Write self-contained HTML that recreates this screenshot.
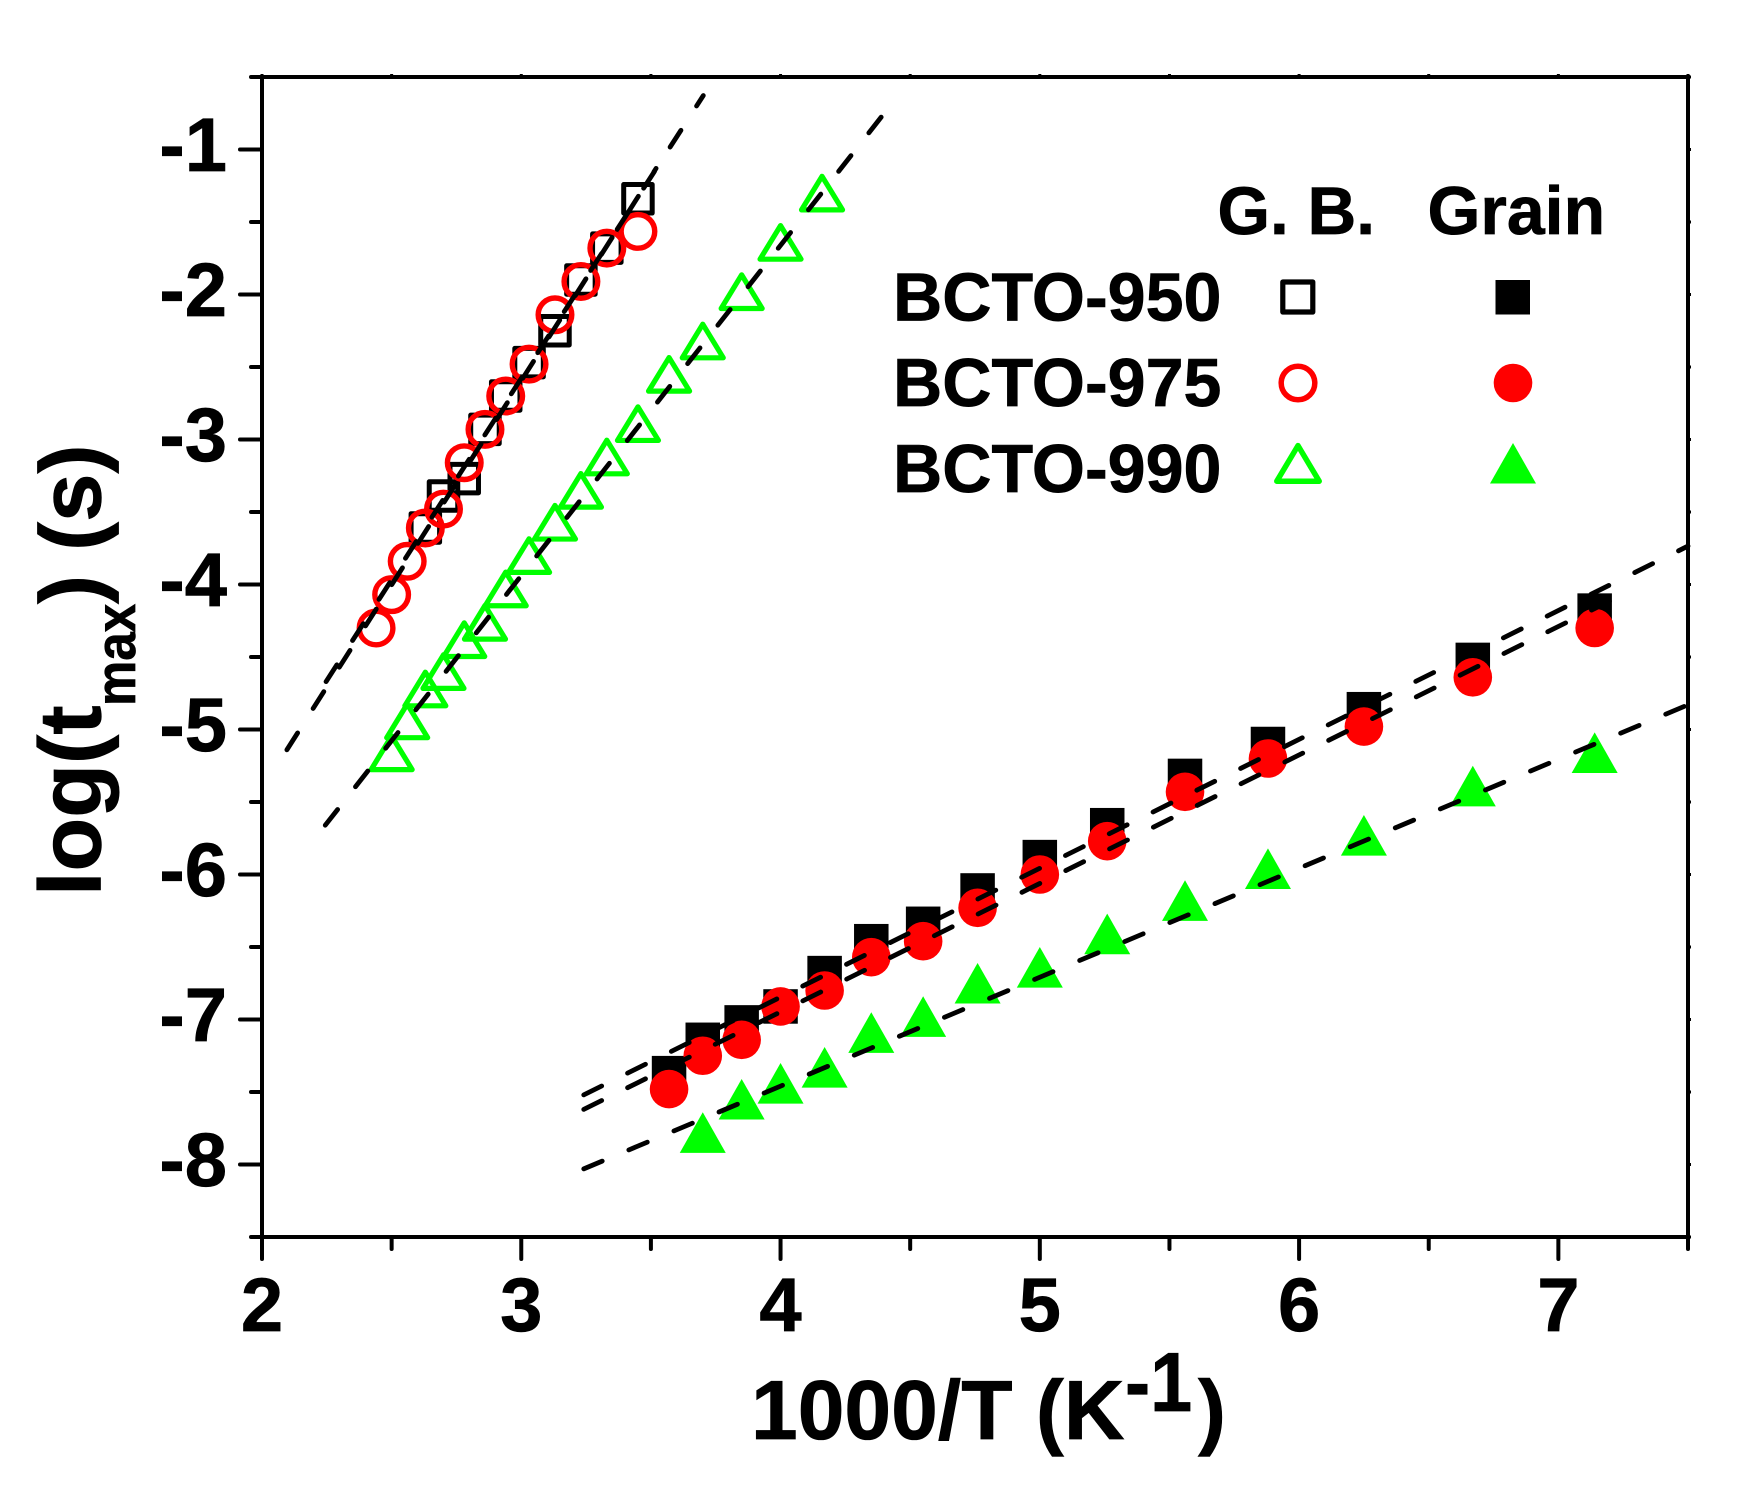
<!DOCTYPE html>
<html lang="en">
<head>
<meta charset="utf-8">
<title>log(tmax) versus 1000/T</title>
<style>
html,body{margin:0;padding:0;background:#fff;width:1744px;height:1488px;overflow:hidden}
svg{display:block}
text{font-family:"Liberation Sans",Arial,sans-serif;font-weight:bold;fill:#000;stroke:#000;stroke-width:.7px;text-rendering:geometricPrecision}
</style>
</head>
<body>
<svg id="chart" xmlns="http://www.w3.org/2000/svg" width="1744" height="1488" viewBox="0 0 1744 1488">
  <rect width="1744" height="1488" fill="#fff"/>
  <g id="marks"></g>
  <g id="axes"></g>
  <g id="fits"></g>
  <text x="751" y="1439" font-size="84">1000/T (K</text>
  <text transform="translate(1125,1411) scale(.9,1)" font-size="84">-1</text>
  <text x="1198" y="1439" font-size="84">)</text>
  <text transform="translate(100.5,896) rotate(-90)" font-size="88">log(t</text>
  <text transform="translate(135,706) rotate(-90) scale(1,1.1)" font-size="51">max</text>
  <text transform="translate(100.5,604) rotate(-90)" font-size="87">) (s)</text>
  <g id="legend">
    <text x="1217.5" y="234" font-size="67.5">G. B.</text>
    <text x="1427.5" y="234" font-size="68">Grain</text>
    <text x="893" y="320.5" font-size="68.2">BCTO-950</text>
    <text x="893" y="406" font-size="68.2">BCTO-975</text>
    <text x="893" y="492" font-size="68.2">BCTO-990</text>
    <rect x="1282.8" y="282" width="30" height="30" fill="none" stroke="#000" stroke-width="5.2" stroke-linejoin="round"/>
    <rect x="1495.5" y="280" width="34.5" height="34.5" fill="#000"/>
    <circle cx="1298" cy="383" r="16.8" fill="none" stroke="#f00" stroke-width="5.5"/>
    <circle cx="1513" cy="383" r="19.3" fill="#f00"/>
    <polygon points="1298,445.6 1319.2,481.2 1276.8,481.2" fill="none" stroke="#0f0" stroke-width="5.5" stroke-linejoin="round"/>
    <polygon points="1513,443 1536,483.5 1490,483.5" fill="#0f0"/>
  </g>
</svg>
<script>
// Categories: 1000/T values
const xGbSquare = [3.45,3.33,3.23,3.13,3.03,2.94,2.86,2.78,2.70,2.63];
const xGbCircle = [3.45,3.33,3.23,3.13,3.03,2.94,2.86,2.78,2.70,2.63,2.56,2.50,2.44];
const xGbTriangle = [4.16,4.00,3.85,3.70,3.57,3.45,3.33,3.23,3.13,3.03,2.94,2.86,2.78,2.70,2.63,2.56,2.50];
const xGrainSquare = [3.57,3.70,3.85,4.00,4.17,4.35,4.55,4.76,5.00,5.26,5.56,5.88,6.25,6.67,7.14];
const xGrainCircle = [3.57,3.70,3.85,4.00,4.17,4.35,4.55,4.76,5.00,5.26,5.56,5.88,6.25,6.67,7.14];
const xGrainTriangle = [3.70,3.85,4.00,4.17,4.35,4.55,4.76,5.00,5.26,5.56,5.88,6.25,6.67,7.14];
// Series values: log(tmax)
const yGb950 = [-1.34,-1.68,-1.90,-2.25,-2.47,-2.70,-2.93,-3.27,-3.39,-3.61];
const yGb975 = [-1.565,-1.68,-1.91,-2.14,-2.48,-2.70,-2.93,-3.16,-3.48,-3.61,-3.84,-4.07,-4.30];
const yGb990 = [-1.30,-1.64,-1.98,-2.32,-2.55,-2.89,-3.12,-3.35,-3.57,-3.80,-4.03,-4.26,-4.38,-4.60,-4.72,-4.94,-5.16];
const yGrain950 = [-7.37,-7.14,-7.02,-6.91,-6.68,-6.46,-6.34,-6.11,-5.88,-5.66,-5.32,-5.10,-4.86,-4.52,-4.18];
const yGrain975 = [-7.48,-7.25,-7.14,-6.91,-6.80,-6.57,-6.46,-6.23,-6.00,-5.77,-5.43,-5.20,-4.98,-4.64,-4.30];
const yGrain990 = [-7.78,-7.55,-7.44,-7.33,-7.09,-6.98,-6.75,-6.64,-6.41,-6.18,-5.96,-5.73,-5.39,-5.16];
// Fit line end points
const fitGb950X = [2.096,3.52];
const fitGb950Y = [-5.14,-1.13];
const fitGb975X = [2.247,3.702];
const fitGb975Y = [-4.67,-0.628];
const fitGb990X = [2.244,4.40];
const fitGb990Y = [-5.66,-0.75];
const fitGrain950X = [3.241,7.50];
const fitGrain950Y = [-7.52,-3.735];
const fitGrain975X = [3.241,7.214];
const fitGrain975Y = [-7.62,-4.10];
const fitGrain990X = [3.241,7.50];
const fitGrain990Y = [-8.03,-4.83];
// Tick labels
const xTickLabels = ['2','3','4','5','6','7'];
const yTickLabels = ['-1','-2','-3','-4','-5','-6','-7','-8'];
const xDomain = [2,7.5];
const yDomain = [-8.5,-0.5];

const NS = 'http://www.w3.org/2000/svg';
const PLOT = {left:262, right:1688, top:77, bottom:1237};
function sx(v){return PLOT.left+(v-xDomain[0])/(xDomain[1]-xDomain[0])*(PLOT.right-PLOT.left);}
function sy(v){return PLOT.bottom-(v-yDomain[0])/(yDomain[1]-yDomain[0])*(PLOT.bottom-PLOT.top);}
function svgEl(tag,attrs,parent){
  const el=document.createElementNS(NS,tag);
  for(const k in attrs){el.setAttribute(k,attrs[k]);}
  parent.appendChild(el);
  return el;
}
const marks=document.getElementById('marks');
const axes=document.getElementById('axes');
const fits=document.getElementById('fits');

function drawSquares(xs,ys,name,open){
  xs.forEach(function(x,i){
    const s=open?28.5:34.5;
    const el=svgEl('rect',{x:sx(x)-s/2,y:sy(ys[i])-s/2,width:s,height:s,fill:open?'none':'#000',stroke:open?'#000':'none','stroke-width':open?5:0,'stroke-linejoin':'round'},marks);
    
    
  });
}
function drawCircles(xs,ys,name,open){
  xs.forEach(function(x,i){
    const el=svgEl('circle',{cx:sx(x),cy:sy(ys[i]),r:open?16.8:19.3,fill:open?'none':'#f00',stroke:open?'#f00':'none','stroke-width':open?5.4:0},marks);
    
    
  });
}
function drawTriangles(xs,ys,name,open){
  xs.forEach(function(x,i){
    const px=sx(x),py=sy(ys[i]);
    const hw=open?20.5:23,up=open?16.7:20.3,dn=open?16.9:20.3;
    const el=svgEl('polygon',{points:px+','+(py-up)+' '+(px+hw)+','+(py+dn)+' '+(px-hw)+','+(py+dn),fill:open?'none':'#0f0',stroke:open?'#0f0':'none','stroke-width':open?5.2:0,'stroke-linejoin':'round'},marks);
    
    
  });
}
drawSquares(xGrainSquare,yGrain950,'grain-950-point',false);
drawCircles(xGrainCircle,yGrain975,'grain-975-point',false);
drawTriangles(xGrainTriangle,yGrain990,'grain-990-point',false);
drawSquares(xGbSquare,yGb950,'gb-950-point',true);
drawCircles(xGbCircle,yGb975,'gb-975-point',true);
drawTriangles(xGbTriangle,yGb990,'gb-990-point',true);

function drawFit(xs,ys,name){
  const el=svgEl('line',{x1:sx(xs[0]),y1:sy(ys[0]),x2:sx(xs[1]),y2:sy(ys[1]),stroke:'#000','stroke-width':4.8,'stroke-linecap':'round','stroke-dasharray':'20 28.9'},fits);
  
  
}
drawFit(fitGb950X,fitGb950Y,'fit-line-gb-950');
drawFit(fitGb975X,fitGb975Y,'fit-line-gb-975');
drawFit(fitGb990X,fitGb990Y,'fit-line-gb-990');
drawFit(fitGrain950X,fitGrain950Y,'fit-line-grain-950');
drawFit(fitGrain975X,fitGrain975Y,'fit-line-grain-975');
drawFit(fitGrain990X,fitGrain990Y,'fit-line-grain-990');

// Axis frame
const frame=svgEl('rect',{x:PLOT.left,y:PLOT.top,width:PLOT.right-PLOT.left,height:PLOT.bottom-PLOT.top,fill:'none',stroke:'#000','stroke-width':4},axes);



function tick(x1,y1,x2,y2,name,cap){
  const el=svgEl('line',{x1:x1,y1:y1,x2:x2,y2:y2,stroke:'#000','stroke-width':cap==='butt'?3:4,'stroke-linecap':cap},axes);
  
  
}
for(let k=0;k<=Math.round((xDomain[1]-xDomain[0])*2);k++){
  const v=xDomain[0]+k/2, major=k%2===0, px=sx(v);
  tick(px,PLOT.bottom,px,PLOT.bottom+(major?22:12),major?'x-major-tick':'x-minor-tick','round');
  tick(px,PLOT.top,px,PLOT.top-3,'top-tick','butt');
}
for(let k=0;k<=Math.round((yDomain[1]-yDomain[0])*2);k++){
  const v=yDomain[0]+k/2, major=k%2===1, py=sy(v);
  tick(PLOT.left,py,PLOT.left-(major?22:11),py,major?'y-major-tick':'y-minor-tick','round');
  tick(PLOT.right,py,PLOT.right+3,py,'right-tick','butt');
}
xTickLabels.forEach(function(t){
  const el=svgEl('text',{x:sx(+t),y:1331,'font-size':76,'text-anchor':'middle'},axes);
  el.textContent=t;
  
  
});
yTickLabels.forEach(function(t){
  const el=svgEl('text',{x:227,y:sy(+t)+21.5,'font-size':76,'text-anchor':'end'},axes);
  el.textContent=t;
  
  
});
</script>
</body>
</html>
